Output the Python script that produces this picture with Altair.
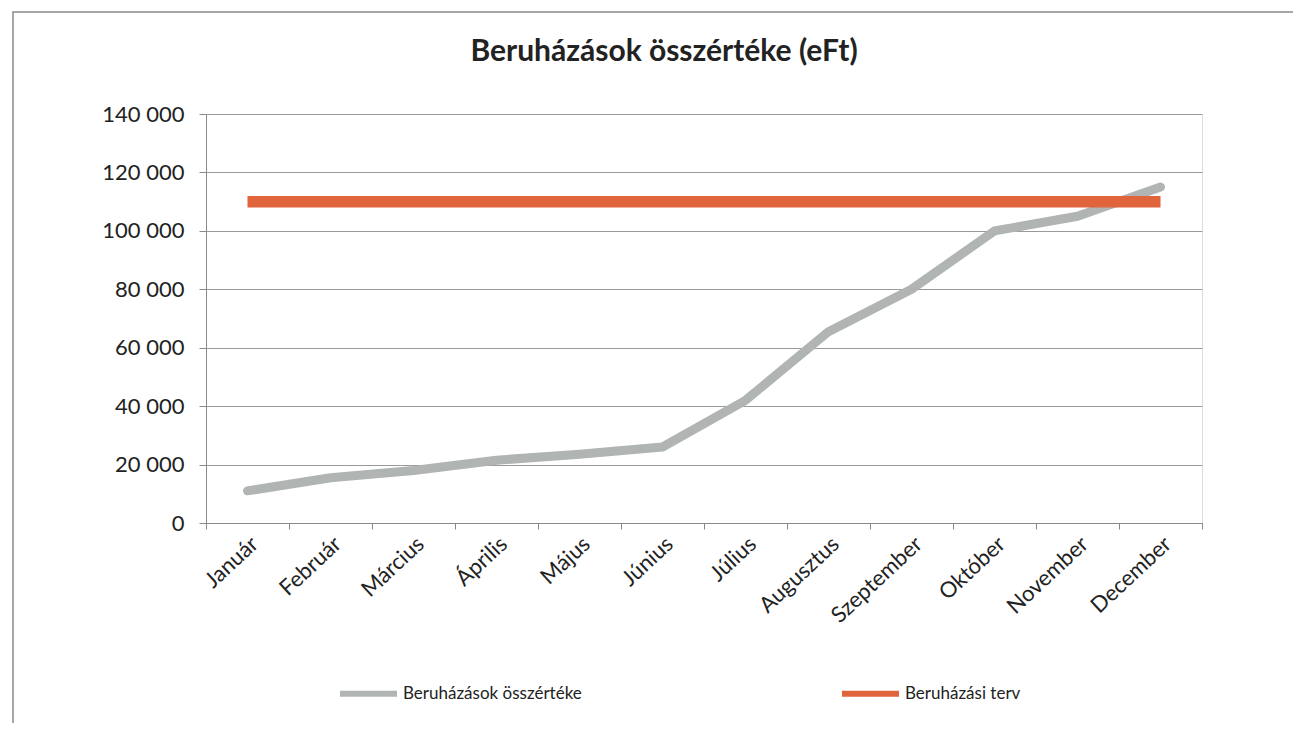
import altair as alt
import pandas as pd

months = ["Január", "Február", "Március", "Április", "Május", "Június",
          "Július", "Augusztus", "Szeptember", "Október", "November", "December"]
actual = [11000, 15500, 18000, 21500, 23500, 26000, 42000, 65500, 80000, 100000, 105000, 115000]
plan = [110000] * 12
series_names = ["Beruházások összértéke", "Beruházási terv"]
series_colors = ["#b0b4b2", "#e0643c"]

rows = []
for m, a, p in zip(months, actual, plan):
    rows.append({"honap": m, "ertek": a, "sorozat": series_names[0]})
    rows.append({"honap": m, "ertek": p, "sorozat": series_names[1]})
df = pd.DataFrame(rows)

W, H = 996, 409
FONT = "Lato"

color = alt.Color(
    "sorozat:N",
    scale=alt.Scale(domain=series_names, range=series_colors),
    sort=series_names,
    legend=alt.Legend(
        title=None, orient="none", legendX=131, legendY=548,
        direction="horizontal", columns=2, columnPadding=248,
        symbolType="stroke", symbolSize=3249, symbolStrokeWidth=6,
        labelFont=FONT, labelFontSize=17, labelColor="#222222", labelLimit=400,
        labelOffset=3,
    ),
)

x = alt.X(
    "honap:N", sort=months, title=None, bandPosition=0.5,
    scale=alt.Scale(type="band", paddingInner=0, paddingOuter=0),
    axis=alt.Axis(labelAngle=-43, labelFont=FONT, labelFontSize=22, labelColor="#222222",
                  tickBand="extent", tickSize=6, tickColor="#8a8a8a", domainColor="#8a8a8a",
                  labelPadding=4, grid=False, labelAlign="right", labelBaseline="top"),
)
y = alt.Y(
    "ertek:Q", title=None,
    scale=alt.Scale(domain=[0, 140000], nice=False),
    axis=alt.Axis(values=list(range(0, 140001, 20000)), labelFont=FONT, labelFontSize=22,
                  labelColor="#222222", labelPadding=15, tickSize=7, tickColor="#8a8a8a",
                  domainColor="#8a8a8a", gridColor="#9a9a9a", gridWidth=1,
                  labelExpr="replace(format(datum.value, ','), ',', ' ')"),
)

base = alt.Chart(df)

gray = base.transform_filter(alt.datum.sorozat == series_names[0]).mark_line(
    strokeWidth=9, strokeCap="round", strokeJoin="round"
).encode(x=x, y=y, color=color)

red = base.transform_filter(alt.datum.sorozat == series_names[1]).mark_line(
    strokeWidth=11.5, strokeCap="butt"
).encode(x=x, y=y, color=color)

frame = alt.Chart(pd.DataFrame({"a": [0]})).mark_rect(
    fill=None, stroke="#8a8a8a", strokeWidth=1.5
).encode(
    x=alt.value(-193), x2=alt.value(W + 200),
    y=alt.value(-102), y2=alt.value(H + 300),
)

chart = alt.layer(frame, gray, red).properties(
    width=W, height=H,
    autosize=alt.AutoSizeParams(type="none"),
    padding={"left": 198, "top": 106, "right": 91, "bottom": 200},
    title=alt.Title("Beruházások összértéke (eFt)", font=FONT, fontSize=30, fontWeight="bold",
                    color="#222222", anchor="middle", dx=-40, offset=-56),
).configure_view(stroke=None).configure(background="white")

chart.save("out.html", embed_options={"renderer": "svg", "actions": False})
